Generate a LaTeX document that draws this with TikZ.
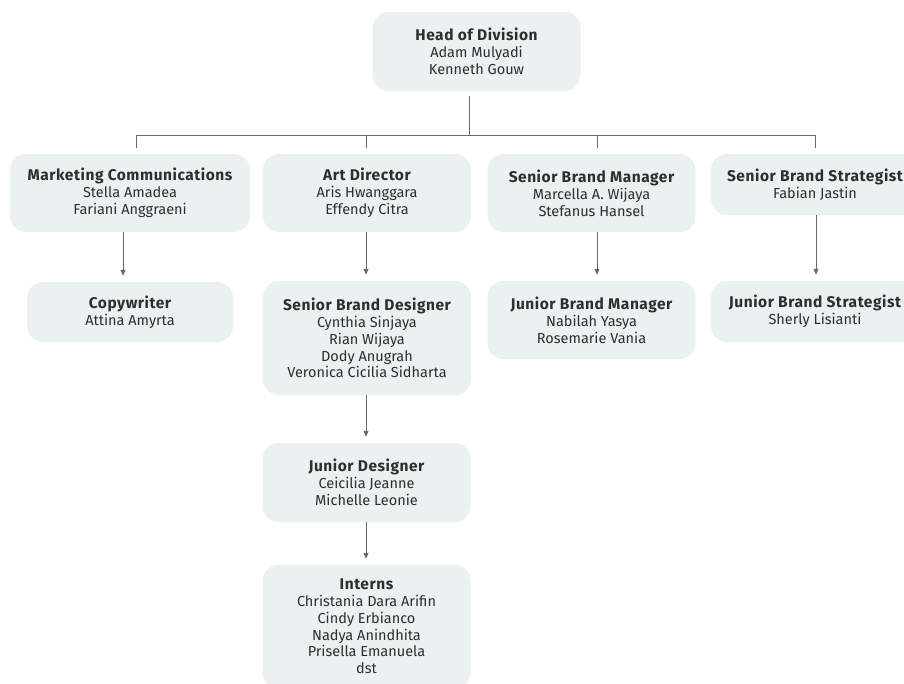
\documentclass[tikz,border=0pt]{standalone}
\usepackage{fontspec}
\setmainfont{Fira Sans}
\usetikzlibrary{arrows.meta}
\definecolor{boxfill}{HTML}{EBF0F0}
\definecolor{txt}{HTML}{2E2E2E}
\definecolor{ln}{HTML}{6A6A6A}
\newcommand{\ttl}[1]{{\fontsize{15.5}{16.8}\selectfont\bfseries\addfontfeature{LetterSpace=3.5}#1}}
\begin{document}
\begin{tikzpicture}[x=1pt,y=-1pt,
  box/.style={fill=boxfill, rounded corners=16pt, minimum width=208pt, inner sep=0pt,
    align=center, text=txt, font=\fontsize{14.5}{16.8}\selectfont},
  conn/.style={draw=ln, line width=1pt},
  arr/.style={conn, -{Triangle[length=6pt,width=5pt]}, shorten >=6pt}]
\useasboundingbox (0,0) rectangle (904,683);
\clip (0,0) rectangle (904,683);
% boxes
\node[box, minimum height=79pt] (head) at (476.5,51.5)
  {\ttl{Head of Division}\\Adam Mulyadi\\Kenneth Gouw};
\node[box, minimum width=240pt, minimum height=78pt] (mc) at (130,193)
  {\ttl{Marketing Communications}\\Stella Amadea\\Fariani Anggraeni};
\node[box, minimum width=206pt, minimum height=60pt] (cw) at (130,312)
  {\ttl{Copywriter}\\Attina Amyrta};
\node[box, minimum height=78pt] (art) at (367,193)
  {\ttl{Art Director}\\Aris Hwanggara\\Effendy Citra};
\node[box, minimum height=114pt] (sbd) at (367,338)
  {\ttl{Senior Brand Designer}\\Cynthia Sinjaya\\Rian Wijaya\\Dody Anugrah\\Veronica Cicilia Sidharta};
\node[box, minimum height=79pt] (jd) at (366.5,482.5)
  {\ttl{Junior Designer}\\Ceicilia Jeanne\\Michelle Leonie};
\node[box, minimum height=123pt] (int) at (366.5,626.5)
  {\ttl{Interns}\\Christania Dara Arifin\\Cindy Erbianco\\Nadya Anindhita\\Prisella Emanuela\\dst};
\node[box, minimum height=78pt] (sbm) at (591.5,193)
  {\ttl{Senior Brand Manager}\\Marcella A. Wijaya\\Stefanus Hansel};
\node[box, minimum height=78pt] (jbm) at (591.5,320)
  {\ttl{Junior Brand Manager}\\Nabilah Yasya\\Rosemarie Vania};
\node[box, minimum height=61pt] (sbs) at (815,184.5)
  {\ttl{Senior Brand Strategist}\\Fabian Jastin};
\node[box, minimum height=61pt] (jbs) at (815,311.5)
  {\ttl{Junior Brand Strategist}\\Sherly Lisianti};
% bus
\coordinate (bus) at (469,135);
\coordinate (b1) at (136,135);
\coordinate (b2) at (366,135);
\coordinate (b3) at (597.5,135);
\coordinate (b4) at (815,135);
\draw[conn, shorten <=5pt] (bus |- head.south) -- (bus);
\draw[conn] (b1) -- (b4);
\draw[conn, shorten >=6pt] (b1) -- (b1 |- mc.north);
\draw[conn, shorten >=6pt] (b2) -- (b2 |- art.north);
\draw[conn, shorten >=6pt] (b3) -- (b3 |- sbm.north);
\draw[conn, shorten >=6pt] (b4) -- (b4 |- sbs.north);
% arrows
\draw[arr] ([xshift=-7pt]mc.south) -- ([xshift=-7pt]cw.north);
\draw[arr] ([xshift=-1pt]art.south) -- ([xshift=-1pt]sbd.north);
\draw[arr] ([xshift=-1pt]sbd.south) -- ([xshift=-0.5pt]jd.north);
\draw[arr] ([xshift=-0.5pt]jd.south) -- ([xshift=-0.5pt]int.north);
\draw[arr] ([xshift=5.5pt]sbm.south) -- ([xshift=5.5pt]jbm.north);
\draw[arr] ([xshift=1pt]sbs.south) -- ([xshift=1pt]jbs.north);
\end{tikzpicture}
\end{document}
